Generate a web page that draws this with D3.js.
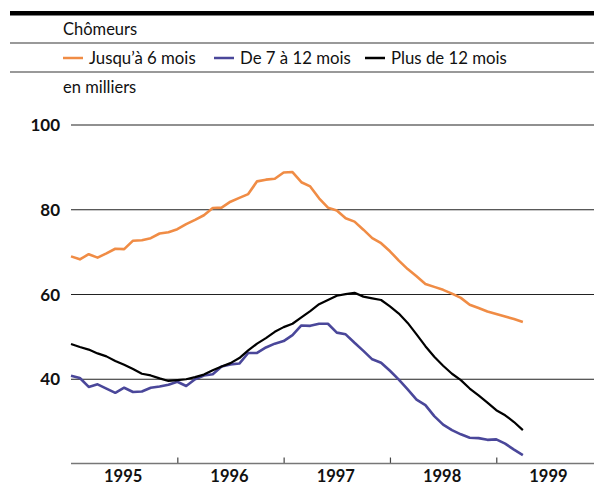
<!DOCTYPE html>
<html><head><meta charset="utf-8">
<script src="https://cdn.jsdelivr.net/npm/d3@7"></script>
<style>
body{margin:0;background:#fff}
svg{display:block;font-family:Lato,"Liberation Sans",sans-serif}
</style>
</head><body>
<svg id="c" width="594" height="486"></svg>
<script>
// Monthly data, January 1995 (index 0) to April 1999 (index 51), thousands
const shortTerm = [69.0,68.3,69.5,68.7,69.7,70.8,70.7,72.7,72.8,73.3,74.4,74.7,
  75.4,76.6,77.6,78.7,80.4,80.5,81.9,82.8,83.7,86.7,87.1,87.3,
  88.8,88.9,86.5,85.5,82.7,80.5,79.8,78.0,77.2,75.3,73.3,72.1,
  70.2,68.0,66.0,64.3,62.5,61.8,61.1,60.2,59.2,57.6,56.8,56.0,
  55.4,54.8,54.2,53.5];
const midTerm = [40.8,40.3,38.2,38.8,37.8,36.8,38.0,37.0,37.1,38.0,38.3,38.7,
  39.4,38.4,40.0,40.9,41.2,43.0,43.5,43.7,46.2,46.2,47.5,48.4,
  49.0,50.4,52.7,52.6,53.1,53.1,51.0,50.6,48.6,46.7,44.7,43.9,
  42.0,39.9,37.6,35.2,33.9,31.3,29.3,28.0,27.0,26.2,26.1,25.7,
  25.8,24.8,23.4,22.1];
const longTerm = [48.3,47.6,47.0,46.1,45.4,44.3,43.4,42.4,41.3,40.9,40.2,39.6,
  39.8,40.0,40.5,41.1,42.1,43.0,43.8,45.0,46.8,48.4,49.7,51.2,
  52.3,53.1,54.6,56.1,57.7,58.7,59.7,60.1,60.4,59.5,59.1,58.7,
  57.2,55.5,53.3,50.6,47.8,45.3,43.2,41.3,39.8,37.8,36.2,34.5,
  32.7,31.5,29.9,28.0];
const yTicks = [40, 60, 80, 100];
const years = ["1995", "1996", "1997", "1998", "1999"];
const seriesNames = ["Jusqu’à 6 mois", "De 7 à 12 mois", "Plus de 12 mois"];
const seriesColors = ["#F08C45", "#4A479A", "#000000"];
const titleText = "Chômeurs";
const unitText = "en milliers";

const series = [shortTerm, midTerm, longTerm];
const svg = d3.select("#c");
const W = 594;

const x = d3.scaleLinear().domain([0, 60]).range([71, 71 + 8.86 * 60]);
const y = d3.scaleLinear().domain([20, 100]).range([464, 125]);

// header rules
svg.append("rect").attr("x", 10).attr("y", 11).attr("width", W - 10).attr("height", 4.5).attr("fill", "#000");
svg.append("line").attr("x1", 10).attr("x2", W).attr("y1", 43).attr("y2", 43).attr("stroke", "#777").attr("stroke-width", 1.3);
svg.append("line").attr("x1", 10).attr("x2", W).attr("y1", 72).attr("y2", 72).attr("stroke", "#777").attr("stroke-width", 1.3);

svg.append("text").attr("x", 63).attr("y", 35).attr("font-size", 16.5).attr("fill", "#111").text(titleText);
svg.append("text").attr("x", 63).attr("y", 93).attr("font-size", 16.5).attr("fill", "#111").text(unitText);

// legend
const legX = [63, 214, 365];
seriesNames.forEach((n, i) => {
  const g = svg.append("g").attr("transform", `translate(${legX[i]},0)`);
  g.append("line").attr("x1", 0).attr("x2", 20).attr("y1", 58).attr("y2", 58)
    .attr("stroke", seriesColors[i]).attr("stroke-width", 2.5);
  g.append("text").attr("x", 26).attr("y", 64).attr("font-size", 16.8).attr("fill", "#111").text(n);
});

// gridlines
svg.append("g").selectAll("line").data(yTicks).join("line")
  .attr("x1", 71).attr("x2", W)
  .attr("y1", d => y(d)).attr("y2", d => y(d))
  .attr("stroke", "#222").attr("stroke-width", 1.2);
svg.append("g").selectAll("text").data(yTicks).join("text")
  .attr("x", 60).attr("y", d => y(d)).attr("dy", "0.36em")
  .attr("text-anchor", "end").attr("font-weight", "bold").attr("font-size", 17).attr("fill", "#111")
  .text(d => d);

// x axis
const xAxis = d3.axisBottom(x).tickValues([12, 24, 36, 48]).tickSize(-6).tickFormat("");
const gx = svg.append("g").attr("transform", "translate(0,463.5)").call(xAxis);
gx.select(".domain").remove();
gx.selectAll(".tick line").attr("stroke", "#444").attr("stroke-width", 1.2);
svg.append("line").attr("x1", 71).attr("x2", W).attr("y1", 463.5).attr("y2", 463.5)
  .attr("stroke", "#777").attr("stroke-width", 1.3);
svg.append("g").selectAll("text").data(years).join("text")
  .attr("x", (d, i) => x(i * 12 + 6) - 1).attr("y", 482)
  .attr("text-anchor", "middle").attr("font-weight", "bold").attr("font-size", 16.5).attr("fill", "#111")
  .text(d => d);

// lines
const line = d3.line().x((d, i) => x(i)).y(d => y(d));
const widths = [2.6, 2.6, 2.2];
series.forEach((s, i) => {
  svg.append("path").datum(s).attr("d", line).attr("fill", "none")
    .attr("stroke", seriesColors[i]).attr("stroke-width", widths[i])
    .attr("stroke-linejoin", "round");
});
</script>
</body></html>
